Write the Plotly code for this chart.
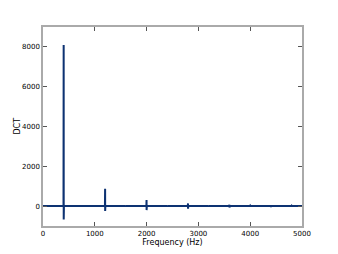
import plotly.graph_objects as go

# Frequency (Hz) and DCT values
freq = [0, 396, 399, 400, 401, 404, 796, 800, 804,
        1196, 1199, 1200, 1201, 1204, 1596, 1600, 1604,
        1996, 1999, 2000, 2001, 2004, 2396, 2400, 2404,
        2796, 2799, 2800, 2801, 2804, 3196, 3200, 3204,
        3596, 3599, 3600, 3601, 3604, 3996, 4000, 4004,
        4396, 4399, 4400, 4401, 4404, 4796, 4800, 4804, 5000]
dct = [0, 0, 8100, -670, 6800, 0, 0, 40, 0,
       0, 870, -250, 600, 0, 0, 30, 0,
       0, 300, -200, 220, 0, 0, 25, 0,
       0, 135, -130, 100, 0, 0, 20, 0,
       0, 70, -70, 50, 0, 0, 18, 0,
       0, 50, -50, 40, 0, 0, 15, 0, 0]

fig = go.Figure()
fig.add_trace(go.Scatter(x=freq, y=dct, mode="lines",
                         line=dict(color="#0d3272", width=2), showlegend=False))

axis_common = dict(showline=True, linecolor="#aaaaaa", linewidth=1.5, mirror="ticks",
                   ticks="inside", ticklen=4, tickcolor="#555555", showgrid=False,
                   zeroline=False, automargin=False,
                   tickfont=dict(family="DejaVu Sans", size=7, color="#000"),
                   title_font=dict(family="DejaVu Sans", size=8, color="#000"))
fig.update_xaxes(range=[0, 5000], tickvals=[0, 1000, 2000, 3000, 4000, 5000],
                 title_text="Frequency (Hz)", title_standoff=1, **axis_common)
fig.update_yaxes(range=[-1000, 9000], tickvals=[0, 2000, 4000, 6000, 8000], **axis_common)
fig.add_annotation(text="DCT", xref="paper", yref="paper", x=-0.1, y=0.5,
                   textangle=-90, showarrow=False, xanchor="center", yanchor="middle",
                   font=dict(family="DejaVu Sans", size=8, color="#000"))
fig.update_layout(width=338, height=254, margin=dict(l=43, r=36, t=27, b=28),
                  plot_bgcolor="white", paper_bgcolor="white")
fig.write_html("out.html")
